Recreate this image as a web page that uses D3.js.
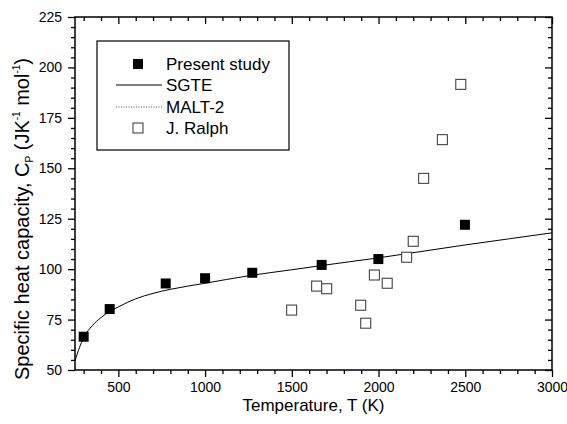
<!DOCTYPE html>
<html>
<head>
<meta charset="utf-8">
<script src="https://cdn.jsdelivr.net/npm/d3@7"></script>
<style>
  html, body { margin: 0; padding: 0; background: #fff; }
  svg { display: block; font-family: "Liberation Sans", Arial, Helvetica, sans-serif; }
</style>
</head>
<body>
<svg id="chart" width="567" height="424"></svg>
<script>
// ---- data ----
const presentT  = [300, 450, 773, 1000, 1272, 1672, 1999, 2498];
const presentCp = [66.5, 80.2, 92.9, 95.5, 98.2, 102.1, 105.0, 122.0];

const ralphT  = [1499, 1643, 1701, 1897, 1926, 1976, 2050, 2162, 2200, 2260, 2368, 2474];
const ralphCp = [79.7, 91.6, 90.3, 82.1, 73.2, 97.1, 93.0, 105.9, 113.8, 145.0, 164.2, 191.6];

const sgteT  = [250, 275, 300, 350, 400, 450, 500, 600, 700, 800, 1000, 1250, 1500, 1750, 2000, 2250, 2500, 2750, 3000];
const sgteCp = [54.5, 61, 66, 72, 76, 79, 81.3, 85.3, 88.0, 90.0, 93.0, 96.7, 99.7, 102.7, 105.6, 108.8, 112.0, 115.0, 118.0];

const xMajorTicks = [500, 1000, 1500, 2000, 2500, 3000];
const yMajorTicks = [50, 75, 100, 125, 150, 175, 200, 225];
const xMinorTicks = d3.range(300, 3000, 100).filter(v => v % 500 !== 0);
const yMinorTicks = d3.range(55, 225, 5).filter(v => v % 25 !== 0);

const legendLabels = ["Present study", "SGTE", "MALT-2", "J. Ralph"];
const xTitle = "Temperature, T (K)";

// ---- layout ----
const L = 75, R = 552, T = 17, B = 370;
const svg = d3.select("#chart");
const x = d3.scaleLinear().domain([250, 3000]).range([L, R]);
const y = d3.scaleLinear().domain([50, 225]).range([B, T]);

function styleAxis(g) {
  g.select(".domain").remove();
  g.selectAll("line").attr("stroke", "#000").attr("stroke-width", 1.3);
  g.selectAll("text").attr("fill", "#000").attr("font-size", "14px")
    .attr("font-family", "'Liberation Sans', Arial, sans-serif");
}

// bottom axis (outward)
svg.append("g").attr("transform", `translate(0,${B})`)
  .call(d3.axisBottom(x).tickValues(xMinorTicks).tickSize(4).tickFormat(""))
  .call(styleAxis);
svg.append("g").attr("transform", `translate(0,${B})`)
  .call(d3.axisBottom(x).tickValues(xMajorTicks).tickSize(7).tickPadding(5).tickFormat(d3.format("d")))
  .call(styleAxis);
// top axis (inward)
svg.append("g").attr("transform", `translate(0,${T})`)
  .call(d3.axisBottom(x).tickValues(xMinorTicks).tickSize(4).tickFormat(""))
  .call(styleAxis);
svg.append("g").attr("transform", `translate(0,${T})`)
  .call(d3.axisBottom(x).tickValues(xMajorTicks).tickSize(7).tickFormat(""))
  .call(styleAxis);
// left axis (outward)
svg.append("g").attr("transform", `translate(${L},0)`)
  .call(d3.axisLeft(y).tickValues(yMinorTicks).tickSize(4).tickFormat(""))
  .call(styleAxis);
svg.append("g").attr("transform", `translate(${L},0)`)
  .call(d3.axisLeft(y).tickValues(yMajorTicks).tickSize(7).tickPadding(6).tickFormat(d3.format("d")))
  .call(styleAxis);
// right axis (inward)
svg.append("g").attr("transform", `translate(${R},0)`)
  .call(d3.axisLeft(y).tickValues(yMinorTicks).tickSize(4).tickFormat(""))
  .call(styleAxis);
svg.append("g").attr("transform", `translate(${R},0)`)
  .call(d3.axisLeft(y).tickValues(yMajorTicks).tickSize(7).tickFormat(""))
  .call(styleAxis);

// frame
svg.append("rect").attr("x", L).attr("y", T).attr("width", R - L).attr("height", B - T)
  .attr("fill", "none").attr("stroke", "#000").attr("stroke-width", 1.5);

// SGTE curve
const sgte = sgteT.map((t, i) => [t, sgteCp[i]]);
svg.append("path").datum(sgte)
  .attr("fill", "none").attr("stroke", "#000").attr("stroke-width", 1)
  .attr("d", d3.line().x(d => x(d[0])).y(d => y(d[1])).curve(d3.curveMonotoneX));

// J. Ralph open squares
const S = 10;
svg.append("g").selectAll("rect").data(ralphT.map((t, i) => [t, ralphCp[i]])).join("rect")
  .attr("x", d => x(d[0]) - S / 2).attr("y", d => y(d[1]) - S / 2)
  .attr("width", S).attr("height", S)
  .attr("fill", "#fff").attr("stroke", "#444").attr("stroke-width", 1.1);

// Present study filled squares
svg.append("g").selectAll("rect").data(presentT.map((t, i) => [t, presentCp[i]])).join("rect")
  .attr("x", d => x(d[0]) - S / 2).attr("y", d => y(d[1]) - S / 2)
  .attr("width", S).attr("height", S)
  .attr("fill", "#000");

// legend
const lg = svg.append("g");
lg.append("rect").attr("x", 97).attr("y", 41).attr("width", 192).attr("height", 109)
  .attr("fill", "#fff").attr("stroke", "#000").attr("stroke-width", 1.2);
const rowY = [64, 85, 107, 128];
lg.append("rect").attr("x", 138 - S / 2).attr("y", rowY[0] - S / 2).attr("width", S).attr("height", S).attr("fill", "#000");
lg.append("line").attr("x1", 116).attr("x2", 162).attr("y1", rowY[1]).attr("y2", rowY[1])
  .attr("stroke", "#000").attr("stroke-width", 1);
lg.append("line").attr("x1", 116).attr("x2", 162).attr("y1", rowY[2]).attr("y2", rowY[2])
  .attr("stroke", "#555").attr("stroke-width", 1).attr("stroke-dasharray", "1,1.5");
lg.append("rect").attr("x", 138 - S / 2).attr("y", rowY[3] - S / 2).attr("width", S).attr("height", S)
  .attr("fill", "#fff").attr("stroke", "#444").attr("stroke-width", 1.1);
lg.selectAll("text.lab").data(legendLabels).join("text").attr("class", "lab")
  .attr("x", 166).attr("y", (d, i) => rowY[i] + 6)
  .attr("font-size", "17px").attr("fill", "#000").text(d => d);

// axis titles
svg.append("text").attr("x", (L + R) / 2).attr("y", 411).attr("text-anchor", "middle")
  .attr("font-size", "17px").attr("fill", "#000").text(xTitle);

const yt = svg.append("text").attr("transform", "translate(29,219) rotate(-90)")
  .attr("text-anchor", "middle").attr("font-size", "20px").attr("fill", "#000");
yt.append("tspan").text("Specific heat capacity, C");
yt.append("tspan").attr("font-size", "10px").attr("dy", 4).text("P");
yt.append("tspan").attr("dy", -4).text(" (JK");
yt.append("tspan").attr("font-size", "10px").attr("dy", -9).text("-1");
yt.append("tspan").attr("dy", 9).text(" mol");
yt.append("tspan").attr("font-size", "10px").attr("dy", -9).text("-1");
yt.append("tspan").attr("dy", 9).text(")");
</script>
</body>
</html>
